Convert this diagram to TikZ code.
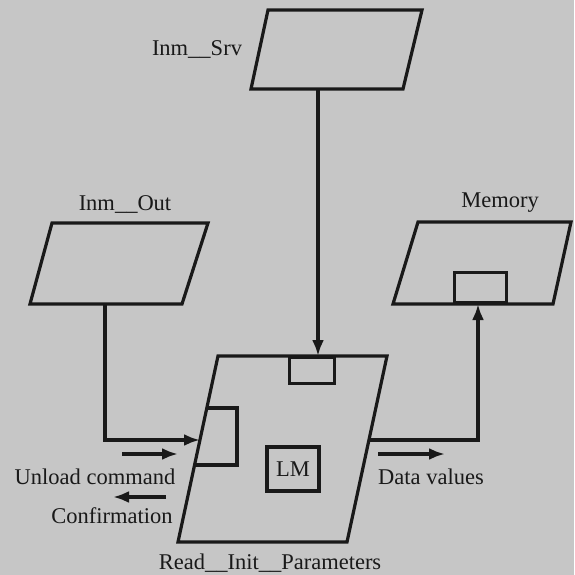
\documentclass[tikz,border=0pt]{standalone}
\usepackage{fontspec}
\setmainfont{Liberation Serif}
\usetikzlibrary{arrows.meta}
\definecolor{scan}{RGB}{198,198,198}
\definecolor{ink}{RGB}{25,25,25}

\begin{document}
\begin{tikzpicture}[
    x=1pt, y=-1pt,
    >={Latex[length=16pt,width=12pt]}, line width=3.2pt, color=ink,
    every node/.style={font=\fontsize{22.5}{27}\selectfont, text=ink},
    lbl/.style={inner sep=0pt},
    port/.style={draw=ink, rectangle, inner sep=0pt, line width=3.2pt},
    flow/.style={->},
    sig/.style={->}
]
% scanned page
\fill[scan] (0,0) rectangle (574,575);
\useasboundingbox (0,0) rectangle (574,575);

% files
\draw (268,10) -- (422,10) -- (403,89) -- (251,89) -- cycle;
\draw (52,223) -- (208,223) -- (182,304) -- (30,304) -- cycle;
\draw (418,222) -- (571,222) -- (553,304) -- (393,304) -- cycle;
\node[lbl] (srv) at (197,50) {Inm\_\_Srv};
\node[lbl] (out) at (125,205) {Inm\_\_Out};
\node[lbl] (mem) at (500,203) {Memory};
\node[port, minimum width=52pt, minimum height=30pt, anchor=south west] (memport) at (453,304) {};

% module
\draw (218,356) -- (387,356) -- (347,542) -- (178,542) -- cycle;
\node[port, minimum width=45pt, minimum height=26pt, anchor=north west] (srvport) at (288,356) {};
\draw (207,408) -| (237,465) -- (195,465);
\node[port, minimum width=52pt, minimum height=44pt] (lm) at (293,469) {LM};
\node[lbl] (rip) at (270,563) {Read\_\_Init\_\_Parameters};

% ends of the connectors
\coordinate (srvout) at (318,89);
\coordinate (rdtop) at (318,356);
\coordinate (outout) at (105,304);
\coordinate (rdleft) at (200,440);
\coordinate (rdright) at (369,440);
\coordinate (memin) at (478,304);

\draw[flow] (srvout) -- (rdtop);
\draw[flow] (outout) |- (rdleft);
\draw[flow] (rdright) -| (memin);

% signals
\coordinate (ucA) at (122,454);
\coordinate (ucB) at (178,454);
\coordinate (cfA) at (166,497);
\coordinate (cfB) at (113,497);
\coordinate (dvA) at (378,454);
\coordinate (dvB) at (445,454);
\draw[sig] (ucA) -- (ucB);
\draw[sig] (cfA) -- (cfB);
\draw[sig] (dvA) -- (dvB);
\node[lbl] (uc) at (95,477) {Unload command};
\node[lbl] (cf) at (112,516) {Confirmation};
\node[lbl] (dv) at (431,477) {Data values};
\end{tikzpicture}
\end{document}
